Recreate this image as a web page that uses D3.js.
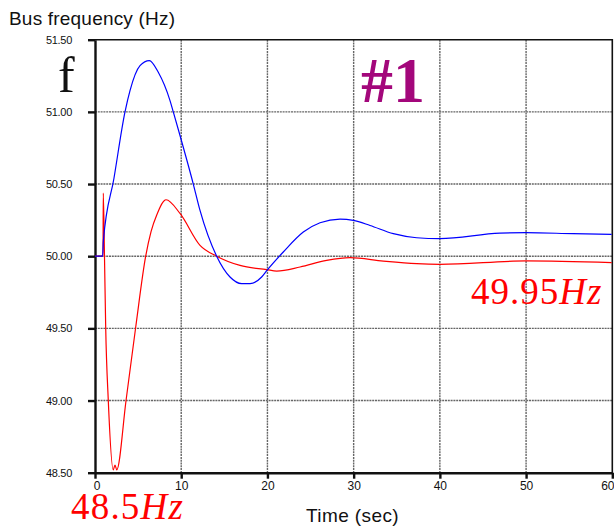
<!DOCTYPE html>
<html>

<head>
    <meta http-equiv="content-type" content="text/html; charset=utf-8">
    <title>Bus frequency</title>
    <script src="https://cdn.jsdelivr.net/npm/d3@7/dist/d3.min.js"></script>
</head>

<style>
    body {
        margin: 0;
        background-color: white;
    }

    .tick text {
        font-family: "Liberation Sans", Arial, sans-serif;
        fill: #111;
    }
</style>

<body>
    <svg width="614" height="526" id="mainsvg"></svg>
    <script>
        // values (time in sec, frequency in Hz)
        const blueTime = [0, 0.89, 0.96, 2.2, 3.48, 4.06, 5.22, 6.30, 7.34, 8.70, 9.08, 9.86, 11.40, 12.18,
            14.11, 15.66, 17.01, 17.98, 19.33, 19.92, 21.84, 24.16, 26.10, 28.42, 29.96, 31.90, 34.60, 37.31,
            40.01, 46.97, 49.99, 55.44, 59.93];
        const blueFreq = [50.0, 50.0, 50.10, 50.54, 51.0, 51.147, 51.32, 51.355, 51.274, 51.078, 51.0,
            50.836, 50.50, 50.317, 50.0, 49.856, 49.81, 49.81, 49.856, 49.90, 50.029, 50.167, 50.232, 50.257,
            50.248, 50.213, 50.156, 50.128, 50.122, 50.16, 50.163, 50.156, 50.151];

        const redTime = [0, 0.89, 0.93, 0.96, 1.10, 1.24, 1.54, 2.12, 2.32, 2.52, 3.60, 4.72, 5.88, 6.5, 7.16, 8.24,
            9.86, 12.18, 14.11, 16.82, 19.92, 21.08, 23.78, 26.87, 29.58, 33.44, 37.31, 40.01, 49.99, 59.93];
        const redFreq = [50.0, 50.0, 50.0, 50.437, 50.0, 49.508, 49.003, 48.52, 48.553, 48.52, 49.0, 49.508,
            50.0, 50.17, 50.285, 50.391, 50.296, 50.075, 50.0, 49.936, 49.907, 49.897, 49.925, 49.971, 49.99, 49.966,
            49.948, 49.944, 49.967, 49.955];

        const xTicks = [0, 10, 20, 30, 40, 50, 60];
        const yTicks = [48.5, 49.0, 49.5, 50.0, 50.5, 51.0, 51.5];

        const svg = d3.select('svg');
        const mLeft = 95, mTop = 39.7, mRight = 612.3, mBottom = 472.7;

        const x = d3.scaleLinear().domain([0, 60]).range([mLeft, mRight]);
        const y = d3.scaleLinear().domain([48.5, 51.5]).range([mBottom, mTop]);

        // grid
        svg.append('g').selectAll('line').data(xTicks.slice(1, -1)).join('line')
            .attr('x1', d => x(d)).attr('x2', d => x(d))
            .attr('y1', mTop).attr('y2', mBottom)
            .attr('stroke', '#666').attr('stroke-width', 1.4).attr('stroke-dasharray', '2,0.8');
        svg.append('g').selectAll('line').data(yTicks.slice(1, -1)).join('line')
            .attr('x1', mLeft).attr('x2', mRight)
            .attr('y1', d => y(d)).attr('y2', d => y(d))
            .attr('stroke', '#666').attr('stroke-width', 1.4).attr('stroke-dasharray', '2,0.8');

        // top and right frame
        svg.append('path')
            .attr('d', `M${mLeft},${mTop}H${mRight}V${mBottom}`)
            .attr('fill', 'none').attr('stroke', '#111').attr('stroke-width', 1.6);

        // axes
        const xAxis = svg.append('g')
            .attr('transform', `translate(0,${mBottom})`)
            .call(d3.axisBottom(x).tickValues(xTicks).tickSize(6).tickSizeOuter(0).tickPadding(3));
        xAxis.selectAll('text').attr('font-size', '12px')
            .attr('x', d => d === 60 ? -5 : (d === 0 ? 1.5 : 0));

        const yAxis = svg.append('g')
            .attr('transform', `translate(${mLeft},0)`)
            .call(d3.axisLeft(y).tickValues(yTicks).tickFormat(d3.format('.2f')).tickSize(7).tickSizeOuter(0).tickPadding(16));
        yAxis.selectAll('text').attr('font-size', '11px').attr('letter-spacing', '-0.3px');

        svg.selectAll('.domain, .tick line').attr('stroke', '#111').attr('stroke-width', 2.4);

        // curves
        const line = d3.line().x(d => x(d[0])).y(d => y(d[1])).curve(d3.curveMonotoneX);
        svg.append('path')
            .datum(d3.zip(redTime, redFreq))
            .attr('d', line)
            .attr('fill', 'none').attr('stroke', '#ff0000').attr('stroke-width', 1.2);
        svg.append('path')
            .datum(d3.zip(blueTime, blueFreq))
            .attr('d', line)
            .attr('fill', 'none').attr('stroke', '#0000ff').attr('stroke-width', 1.2);

        // labels
        svg.append('text').attr('x', 9).attr('y', 25)
            .attr('font-family', '"Liberation Sans", Arial, sans-serif').attr('font-size', '19px')
            .attr('letter-spacing', '0.2px').attr('fill', '#111').text('Bus frequency (Hz)');
        svg.append('text').attr('x', 306).attr('y', 521.5)
            .attr('font-family', '"Liberation Sans", Arial, sans-serif').attr('font-size', '19px')
            .attr('letter-spacing', '0.4px').attr('fill', '#111').text('Time (sec)');

        svg.append('text').attr('x', 58).attr('y', 91.7)
            .attr('font-family', '"Liberation Serif", "DejaVu Serif", serif').attr('font-size', '50px')
            .attr('fill', '#111').text('f');

        svg.append('text').attr('x', 361).attr('y', 102.3)
            .attr('font-family', '"Liberation Serif", "DejaVu Serif", serif').attr('font-size', '64px')
            .attr('font-weight', 'bold').attr('fill', '#a3077b').text('#1');

        const red1 = svg.append('text').attr('x', 471).attr('y', 304)
            .attr('font-family', '"Liberation Serif", "DejaVu Serif", serif').attr('font-size', '37px')
            .attr('letter-spacing', '1px').attr('fill', '#ff0000');
        red1.append('tspan').text('49.95');
        red1.append('tspan').attr('font-style', 'italic').text('Hz');

        const red2 = svg.append('text').attr('x', 71).attr('y', 519.3)
            .attr('font-family', '"Liberation Serif", "DejaVu Serif", serif').attr('font-size', '37px')
            .attr('letter-spacing', '1.2px').attr('fill', '#ff0000');
        red2.append('tspan').text('48.5');
        red2.append('tspan').attr('font-style', 'italic').text('Hz');
    </script>
</body>

</html>
